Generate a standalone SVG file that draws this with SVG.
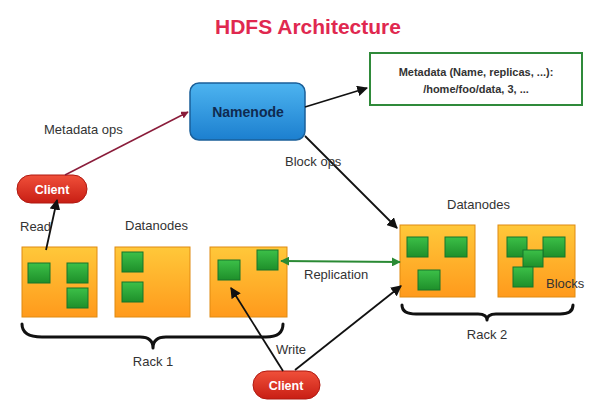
<svg xmlns="http://www.w3.org/2000/svg" width="589" height="403" viewBox="0 0 589 403">
<defs>
<linearGradient id="gBlue" x1="0" y1="0" x2="0" y2="1"><stop offset="0" stop-color="#4db4f0"/><stop offset="1" stop-color="#1c7fcf"/></linearGradient>
<linearGradient id="gOrange" x1="0" y1="0" x2="0" y2="1"><stop offset="0" stop-color="#ffc83a"/><stop offset="1" stop-color="#ff9a1c"/></linearGradient>
<linearGradient id="gRed" x1="0" y1="0" x2="0" y2="1"><stop offset="0" stop-color="#f0503a"/><stop offset="1" stop-color="#c81e14"/></linearGradient>
<linearGradient id="gGreen" x1="0" y1="0" x2="0" y2="1"><stop offset="0" stop-color="#3cc048"/><stop offset="1" stop-color="#1e8f2a"/></linearGradient>
<marker id="aBlack" viewBox="0 0 10 10" refX="9" refY="5" markerWidth="6" markerHeight="6" orient="auto-start-reverse"><path d="M0,0 L10,5 L0,10 z" fill="#111"/></marker>
<marker id="aRed" viewBox="0 0 10 10" refX="9" refY="5" markerWidth="5" markerHeight="5" orient="auto"><path d="M0,0 L10,5 L0,10 z" fill="#8a1c3a"/></marker>
<marker id="aGreen" viewBox="0 0 10 10" refX="9" refY="5" markerWidth="5" markerHeight="5" orient="auto-start-reverse"><path d="M0,0 L10,5 L0,10 z" fill="#2a8a34"/></marker>
</defs>
<style>
text{font-family:"Liberation Sans",Arial,sans-serif}
.lbl{font-size:13px;fill:#333}
.dn{fill:url(#gOrange);stroke:#e08a10;stroke-width:1}
.blk{fill:url(#gGreen);stroke:#17752a;stroke-width:1}
.client{fill:url(#gRed);stroke:#b01810;stroke-width:1}
.ctext{font-size:12.5px;font-weight:bold;fill:#fff}
.brace{fill:none;stroke:#111;stroke-width:3;stroke-linecap:round;stroke-linejoin:round}
.conn{fill:none;stroke:#111;stroke-width:1.8}
.meta{font-size:11px;font-weight:bold;fill:#333}
</style>
<rect width="589" height="403" fill="#fff"/>
<text x="308" y="34" text-anchor="middle" font-size="21" font-weight="bold" fill="#e0284f">HDFS Architecture</text>

<g id="namenode">
<rect x="190" y="83" width="115" height="57" rx="9" fill="url(#gBlue)" stroke="#1a5f99" stroke-width="1.5"/>
<text x="248" y="117" text-anchor="middle" font-size="14" font-weight="bold" fill="#0f2a50">Namenode</text>
</g>

<g id="metadata">
<rect x="370" y="53" width="212" height="52" fill="#fff" stroke="#2f8a3a" stroke-width="2"/>
<text x="476" y="76" text-anchor="middle" class="meta">Metadata (Name, replicas, ...):</text>
<text x="476" y="93" text-anchor="middle" class="meta">/home/foo/data, 3, ...</text>
</g>

<g id="client-read">
<rect x="17" y="175" width="70" height="28" rx="14" class="client"/>
<text x="52" y="194" text-anchor="middle" class="ctext">Client</text>
</g>

<g id="client-write">
<rect x="253" y="371" width="67" height="28" rx="14" class="client"/>
<text x="286" y="390" text-anchor="middle" class="ctext">Client</text>
</g>

<g id="dn1">
<rect x="22" y="247" width="75" height="70" class="dn"/>
<rect x="28" y="263" width="22" height="20" class="blk"/>
<rect x="67" y="263" width="21" height="20" class="blk"/>
<rect x="67" y="288" width="21" height="20" class="blk"/>
</g>
<g id="dn2">
<rect x="115" y="247" width="75" height="70" class="dn"/>
<rect x="122" y="252" width="21" height="20" class="blk"/>
<rect x="122" y="282" width="21" height="20" class="blk"/>
</g>
<g id="dn3">
<rect x="210" y="247" width="77" height="70" class="dn"/>
<rect x="218" y="260" width="22" height="20" class="blk"/>
<rect x="257" y="250" width="21" height="20" class="blk"/>
</g>
<g id="dn4">
<rect x="400" y="225" width="75" height="72" class="dn"/>
<rect x="407" y="237" width="21" height="20" class="blk"/>
<rect x="445" y="237" width="22" height="20" class="blk"/>
<rect x="418" y="270" width="22" height="20" class="blk"/>
</g>
<g id="dn5">
<rect x="498" y="225" width="77" height="72" class="dn"/>
<rect x="507" y="237" width="20" height="20" class="blk"/>
<rect x="543" y="237" width="22" height="20" class="blk"/>
<rect x="523" y="250" width="20" height="17" class="blk"/>
<rect x="513" y="267" width="20" height="20" class="blk"/>
</g>

<g id="rack1">
<path class="brace" d="M22,324 Q22,337 42,337 L140,337 Q153,337 153,348 Q153,337 166,337 L266,337 Q283,337 283,324"/>
</g>
<g id="rack2">
<path class="brace" d="M402,305 Q402,314 416,314 L478,314 Q487,314 487,320 Q487,314 496,314 L560,314 Q573,314 573,305"/>
</g>

<g id="connectors">
<line class="conn" x1="305" y1="107" x2="367" y2="88" marker-end="url(#aBlack)"/>
<line x1="65" y1="175" x2="188" y2="112" stroke="#8a1c3a" stroke-width="1.5" marker-end="url(#aRed)"/>
<line class="conn" x1="305" y1="136" x2="397" y2="228" marker-end="url(#aBlack)"/>
<line class="conn" x1="46" y1="250" x2="57" y2="200" marker-end="url(#aBlack)"/>
<line x1="400" y1="262" x2="281" y2="261" stroke="#2a8a34" stroke-width="1.8" marker-start="url(#aGreen)" marker-end="url(#aGreen)"/>
<line class="conn" x1="283" y1="371" x2="231" y2="288" marker-end="url(#aBlack)"/>
<line class="conn" x1="295" y1="370" x2="401" y2="286" marker-end="url(#aBlack)"/>
</g>

<g id="labels">
<text x="44" y="134" class="lbl">Metadata ops</text>
<text x="285" y="166" class="lbl">Block ops</text>
<text x="20" y="231" class="lbl">Read</text>
<text x="125" y="230" class="lbl">Datanodes</text>
<text x="447" y="209" class="lbl">Datanodes</text>
<text x="304" y="279" class="lbl">Replication</text>
<text x="276" y="354" class="lbl">Write</text>
<text x="546" y="288" class="lbl">Blocks</text>
<text x="153" y="366" text-anchor="middle" class="lbl">Rack 1</text>
<text x="487" y="339" text-anchor="middle" class="lbl">Rack 2</text>
</g>
</svg>
